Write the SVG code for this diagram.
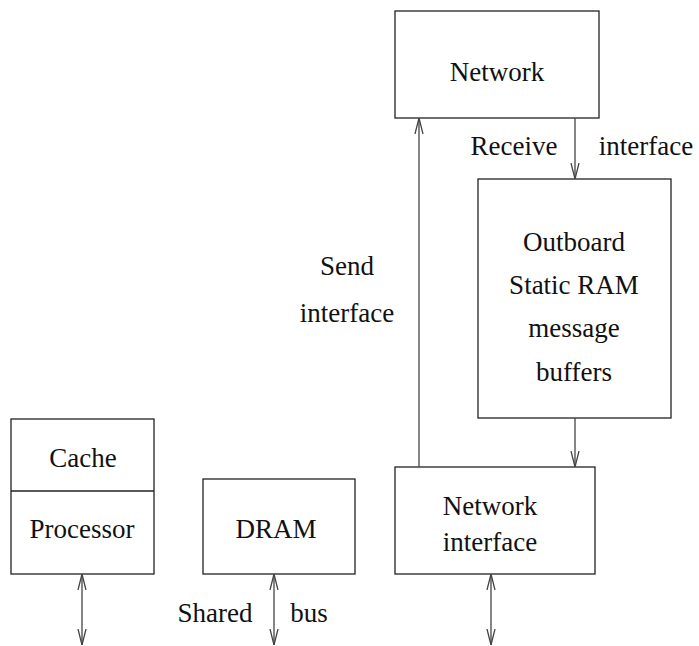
<svg xmlns="http://www.w3.org/2000/svg" width="699" height="646" viewBox="0 0 699 646">
  <style>
    .box { fill: #fff; stroke: #222; stroke-width: 1.3; }
    .wire { fill: none; stroke: #444; stroke-width: 1.3; }
    .t { font-family: 'Liberation Serif', 'Times New Roman', Times, 'DejaVu Serif', serif; font-size: 27px; fill: #111; text-anchor: middle; }
  </style>
  <defs>
    <marker id="open-arrow" viewBox="0 0 16 10" refX="16" refY="5" markerWidth="16" markerHeight="10" markerUnits="userSpaceOnUse" orient="auto-start-reverse">
      <path d="M0,1 L16,5 L0,9" fill="none" stroke="#444" stroke-width="1.3"/>
    </marker>
  </defs>

  <g id="network">
    <rect class="box" x="395" y="11" width="204" height="107"/>
    <text class="t" x="497" y="81">Network</text>
  </g>

  <g id="outboard-sram">
    <rect class="box" x="478" y="179" width="193" height="239"/>
    <text class="t" x="574" y="251">Outboard</text>
    <text class="t" x="574" y="294">Static RAM</text>
    <text class="t" x="574" y="337">message</text>
    <text class="t" x="574" y="381">buffers</text>
  </g>

  <g id="network-interface">
    <rect class="box" x="395" y="467" width="200" height="107"/>
    <text class="t" x="490" y="515">Network</text>
    <text class="t" x="490" y="551">interface</text>
  </g>

  <g id="cache-processor">
    <rect class="box" x="11" y="419" width="143" height="155"/>
    <line class="box" x1="11" y1="491" x2="154" y2="491"/>
    <text class="t" x="83" y="467">Cache</text>
    <text class="t" x="82" y="538">Processor</text>
  </g>

  <g id="dram">
    <rect class="box" x="203" y="479" width="152" height="95"/>
    <text class="t" x="276" y="538">DRAM</text>
  </g>

  <g id="connectors">
    <!-- receive path: network down into the buffers -->
    <line class="wire" x1="575" y1="118" x2="575" y2="179" marker-end="url(#open-arrow)"/>
    <!-- send path: interface up to the network -->
    <line class="wire" x1="419" y1="467" x2="419" y2="118" marker-end="url(#open-arrow)"/>
    <!-- buffers into the interface -->
    <line class="wire" x1="575" y1="418" x2="575" y2="467" marker-end="url(#open-arrow)"/>
    <!-- shared bus taps -->
    <line class="wire" x1="82" y1="574" x2="82" y2="645" marker-start="url(#open-arrow)" marker-end="url(#open-arrow)"/>
    <line class="wire" x1="274" y1="574" x2="274" y2="645" marker-start="url(#open-arrow)" marker-end="url(#open-arrow)"/>
    <line class="wire" x1="491" y1="574" x2="491" y2="645" marker-start="url(#open-arrow)" marker-end="url(#open-arrow)"/>
  </g>

  <g id="labels">
    <text class="t" x="514" y="155">Receive</text>
    <text class="t" x="646" y="155">interface</text>
    <text class="t" x="347" y="275">Send</text>
    <text class="t" x="347" y="322">interface</text>
    <text class="t" x="215" y="622">Shared</text>
    <text class="t" x="309" y="622">bus</text>
  </g>
</svg>
